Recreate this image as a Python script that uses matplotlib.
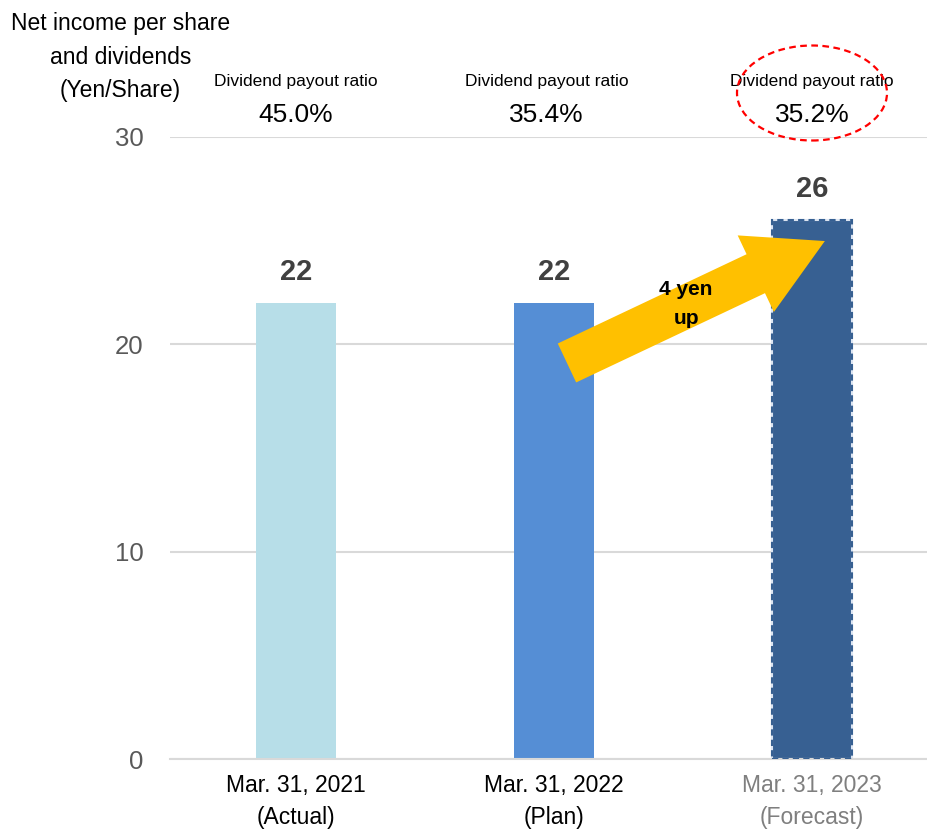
import matplotlib.pyplot as plt
from matplotlib.patches import Ellipse

plt.rcParams['font.family'] = ['Liberation Sans', 'DejaVu Sans']

periods = ['Mar. 31, 2021\n(Actual)', 'Mar. 31, 2022\n(Plan)', 'Mar. 31, 2023\n(Forecast)']
dividends = [22, 22, 26]
payout_ratios = ['45.0%', '35.4%', '35.2%']
bar_colors = ['#B7DEE8', '#558ED5', '#376092']
label_colors = ['#000000', '#000000', '#7F7F7F']

fig = plt.figure(figsize=(9.28, 8.31), dpi=100)
ax = fig.add_axes([0.183, 0.0866, 0.817, 0.7486])

x = list(range(len(dividends)))
bars = ax.bar(x, dividends, width=0.31, color=bar_colors, zorder=2)
# forecast bar gets a dashed border
bars[2].set_edgecolor('#DCE5F2')
bars[2].set_linewidth(1.5)
ax.bar(x[2], dividends[2], width=0.31, facecolor='none', edgecolor=bar_colors[2],
       linewidth=1.5, linestyle=(0, (3, 2)), zorder=3)

for xi, v in zip(x, dividends):
    ax.text(xi, v + 0.8, f'{v}', ha='center', va='bottom', fontsize=21,
            fontweight='bold', color='#404040')

ax.set_xlim(-0.49, 2.45)
ax.set_ylim(0, 30)
ax.set_yticks([0, 10, 20, 30])
ax.yaxis.grid(True, color='#D9D9D9', linewidth=1.5, zorder=0)
ax.set_axisbelow(True)
for side in ['top', 'right', 'left']:
    ax.spines[side].set_visible(False)
ax.spines['bottom'].set_color('#D9D9D9')
ax.spines['bottom'].set_linewidth(1.5)
ax.tick_params(axis='y', length=0, pad=19, labelsize=18.5, labelcolor='#595959')
ax.tick_params(axis='x', length=0, pad=11)
ax.set_xticks(x)
ax.set_xticklabels(periods, fontsize=16.5, linespacing=1.5)
for lbl, c in zip(ax.get_xticklabels(), label_colors):
    lbl.set_color(c)

# payout ratios above the plot
ratio_x = [0, 0.97, 2]
for xr, r in zip(ratio_x, payout_ratios):
    ax.text(xr, 32.65, 'Dividend payout ratio', ha='center', va='center', fontsize=12.5,
            clip_on=False)
    ax.text(xr, 31.05, r, ha='center', va='center', fontsize=19, clip_on=False)

fig.text(0.13, 0.985, 'Net income per share\nand dividends\n(Yen/Share)', ha='center',
         va='top', fontsize=16.5, linespacing=1.58)

# growth arrow
ax.annotate('', xy=(2.05, 24.98), xytext=(1.05, 19.1),
            arrowprops=dict(arrowstyle='simple,head_length=55,head_width=61,tail_width=31',
                            mutation_scale=1, color='#FFC000', shrinkA=0, shrinkB=0,
                            linewidth=0), zorder=4)
ax.text(1.512, 21.95, '4 yen\nup', ha='center', va='center', fontsize=15,
        fontweight='bold', color='#000000', zorder=5, linespacing=1.65)

# highlight around the forecast ratio
fig.patches.append(Ellipse((812 / 928, 1 - 93 / 831), 150 / 928, 95 / 831,
                           transform=fig.transFigure, fill=False, edgecolor='#FF0000',
                           linestyle=(0, (3, 2)), linewidth=1.6))

fig.savefig('out.png', dpi=100)
